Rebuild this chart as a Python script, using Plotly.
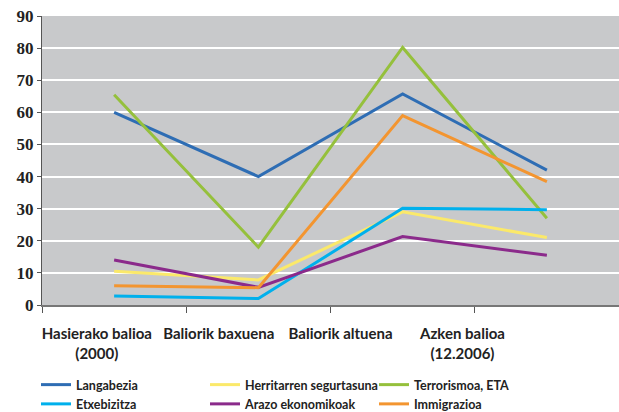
import plotly.graph_objects as go

categories = ["Hasierako balioa<br>(2000)", "Baliorik baxuena", "Baliorik altuena", "Azken balioa<br>(12.2006)"]
series_names = ["Langabezia", "Herritarren segurtasuna", "Terrorismoa, ETA",
                "Etxebizitza", "Arazo ekonomikoak", "Immigrazioa"]
langabezia = [60, 40, 65.7, 42.0]
herritarren = [10.5, 7.8, 29.0, 21.0]
terrorismoa = [65.5, 18.0, 80.2, 27.0]
etxebizitza = [2.8, 2.0, 30.1, 29.7]
arazo = [14.0, 5.5, 21.3, 15.5]
immigrazioa = [6.0, 5.4, 59.0, 38.4]
y_ticks = [0, 10, 20, 30, 40, 50, 60, 70, 80, 90]

values = [langabezia, herritarren, terrorismoa, etxebizitza, arazo, immigrazioa]
colors = ["#2E6DB4", "#FBE96A", "#95C03C", "#00B0EC", "#8B2A8B", "#F39530"]

fig = go.Figure()
for name, vals, col in zip(series_names, values, colors):
    fig.add_trace(go.Scatter(x=categories, y=vals, name=name, mode="lines",
                             line=dict(color=col, width=3)))

# category labels drawn slightly left of the category centres (as in the source)
label_pos = [i * 0.845 - 0.12 for i in range(len(categories))]
fig.add_trace(go.Scatter(x=label_pos, y=[None] * len(label_pos), xaxis="x2", mode="lines",
                         showlegend=False, hoverinfo="skip"))

fig.update_layout(
    width=619, height=412,
    margin=dict(l=42, r=0, t=16, b=107),
    paper_bgcolor="white",
    plot_bgcolor="#C8C9CB",
    showlegend=True,
    legend=dict(orientation="h", x=36 / 619, xanchor="left", xref="container",
                y=1 - 370 / 412, yanchor="top", yref="container",
                entrywidth=124, entrywidthmode="pixels", tracegroupgap=0,
                font=dict(family="Lato", size=12.5, color="#222222", weight="bold"),
                itemwidth=30, bgcolor="rgba(0,0,0,0)"),
    xaxis2=dict(overlaying="x", anchor="y", side="bottom", range=[-0.5, 3.5],
                tickmode="array", tickvals=label_pos, ticktext=categories,
                showline=False, showgrid=False, zeroline=False, ticks="",
                ticklabelstandoff=18, automargin=False,
                tickfont=dict(family="Lato", size=15, color="#222222", weight="bold")),
)
fig.layout.xaxis.update(type="category", range=[-0.5, 3.5], tickson="boundaries", ticks="outside", ticklen=6,
                        tickcolor="#555555", showgrid=False, showline=True, linecolor="#777777",
                        linewidth=2, showticklabels=False, automargin=False)
fig.update_yaxes(range=[0, 90], tickvals=y_ticks, ticks="outside", ticklen=4,
                 tickcolor="#555555", showline=True, linecolor="#555555", linewidth=1,
                 showgrid=True, gridcolor="white", gridwidth=1.5, zeroline=False, automargin=False,
                 tickfont=dict(family="Liberation Serif", size=17, color="#222222", weight="bold"))

fig.write_html("out.html", config={"displayModeBar": False},
               post_script="document.body.style.margin='0';")
